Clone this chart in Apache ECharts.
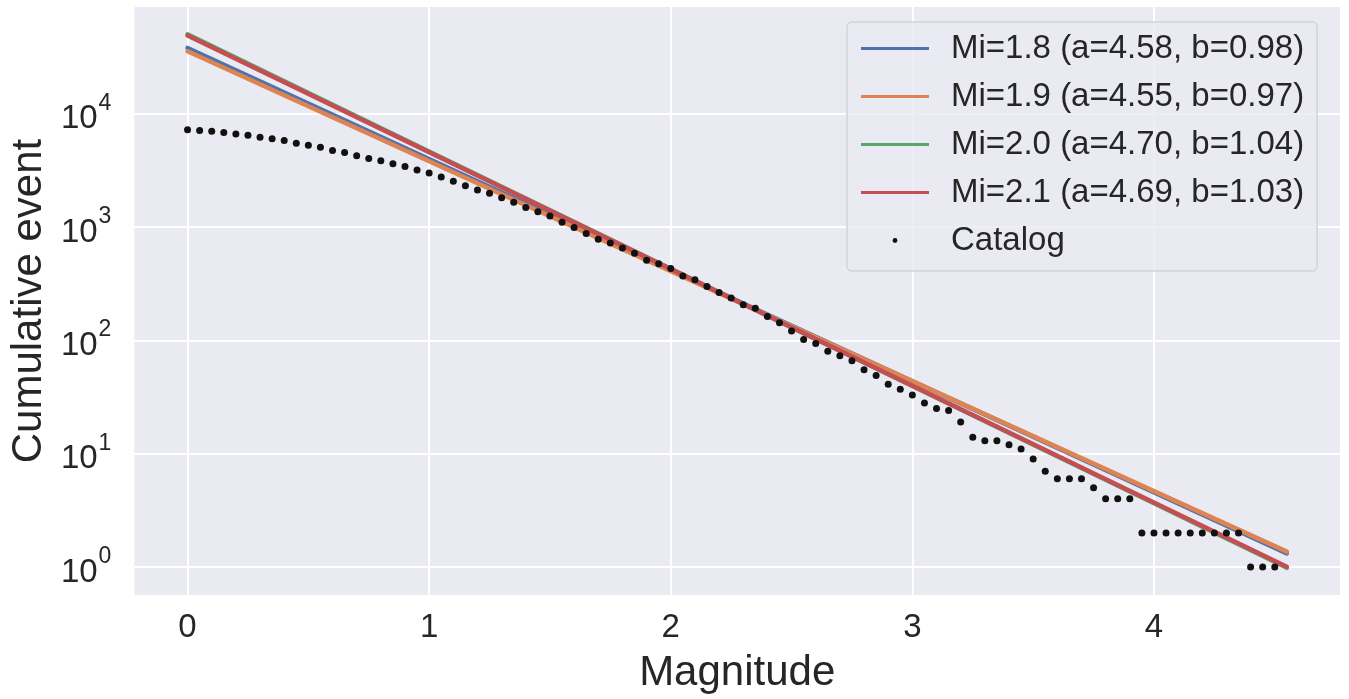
<!DOCTYPE html>
<html>
<head>
<meta charset="utf-8">
<script src="https://cdn.jsdelivr.net/npm/echarts@6/dist/echarts.min.js"></script>
<style>
html,body{margin:0;padding:0;background:#fff;}
#chart{width:1349px;height:699px;}
</style>
</head>
<body>
<div id="chart"></div>
<script>
// ---- data ----
const catalogMag = [
  0.00,0.05,0.10,0.15,0.20,0.25,0.30,0.35,0.40,0.45,
  0.50,0.55,0.60,0.65,0.70,0.75,0.80,0.85,0.90,0.95,
  1.00,1.05,1.10,1.15,1.20,1.25,1.30,1.35,1.40,1.45,
  1.50,1.55,1.60,1.65,1.70,1.75,1.80,1.85,1.90,1.95,
  2.00,2.05,2.10,2.15,2.20,2.25,2.30,2.35,2.40,2.45,
  2.50,2.55,2.60,2.65,2.70,2.75,2.80,2.85,2.90,2.95,
  3.00,3.05,3.10,3.15,3.20,3.25,3.30,3.35,3.40,3.45,
  3.50,3.55,3.60,3.65,3.70,3.75,3.80,3.85,3.90,3.95,
  4.00,4.05,4.10,4.15,4.20,4.25,4.30,4.35,4.40,4.45,
  4.50
];
const catalogCount = [
  7230,7090,6990,6810,6630,6450,6200,6000,5790,5480,
  5260,5060,4730,4540,4250,4020,3840,3610,3420,3180,
  2990,2760,2540,2310,2120,1990,1815,1650,1483,1367,
  1250,1101,989,876,780,724,654,588,510,473,
  431,369,343,299,265,236,206,192,162,143,
  121,102,94,80,73,66,55,49,41,37,
  33,28,25,24,19,14,13,13,12,11,
  9,7,6,6,6,5,4,4,4,2,
  2,2,2,2,2,2,2,2,1,1,
  1
];
const fitMag = [0, 4.55];
const fitNames = [
  'Mi=1.8 (a=4.58, b=0.98)',
  'Mi=1.9 (a=4.55, b=0.97)',
  'Mi=2.0 (a=4.70, b=1.04)',
  'Mi=2.1 (a=4.69, b=1.03)'
];
const fitBlue   = [38019, 1.321];
const fitOrange = [35481, 1.369];
const fitGreen  = [50119, 0.985];
const fitRed    = [48978, 1.008];
const xTicks = [0, 1, 2, 3, 4];
const catalogName = 'Catalog';

// ---- chart ----
const FONT = '"Liberation Sans", Arial, Helvetica, sans-serif';
const TXT = '#262626';
const colors = ['#4C72B0', '#DD8452', '#55A868', '#C44E52'];
const fits = [fitBlue, fitOrange, fitGreen, fitRed];

const chart = echarts.init(document.getElementById('chart'), null, {renderer: 'canvas'});

const lineSeries = fits.map((vals, i) => ({
  name: fitNames[i],
  type: 'line',
  symbol: 'none',
  showSymbol: false,
  data: fitMag.map((m, j) => [m, vals[j]]),
  lineStyle: {color: colors[i], width: 4.5, cap: 'round'},
  itemStyle: {color: colors[i]},
  z: 2 + i,
  animation: false
}));

const lineIcon = 'path://M0,0M70,14M1,5.4L69,5.4L69,8.6L1,8.6Z';
const dotIcon = 'path://M0,0M70,14M32.6,7a2.4,2.4 0 1,0 4.8,0a2.4,2.4 0 1,0 -4.8,0Z';

const option = {
  backgroundColor: '#ffffff',
  animation: false,
  grid: {left: 133, top: 7, right: 9, bottom: 102, backgroundColor: '#EAEAF2', show: true, borderWidth: 0},
  xAxis: {
    type: 'value',
    min: -0.22, max: 4.77,
    splitNumber: 5,
    name: 'Magnitude',
    nameLocation: 'middle',
    nameGap: 57,
    nameTextStyle: {fontSize: 42, color: TXT, fontFamily: FONT},
    axisLine: {show: false},
    axisTick: {show: false},
    axisLabel: {
      fontSize: 33, color: TXT, fontFamily: FONT, margin: 16,
      showMinLabel: false, showMaxLabel: false,
      formatter: v => (xTicks.indexOf(Math.round(v*1000)/1000) >= 0 ? String(Math.round(v)) : '')
    },
    splitLine: {show: true, showMinLine: false, showMaxLine: false, lineStyle: {color: '#ffffff', width: 2}}
  },
  yAxis: {
    type: 'log',
    logBase: 10,
    min: 0.567, max: 87300,
    name: 'Cumulative event',
    nameLocation: 'middle',
    nameGap: 82,
    nameTextStyle: {fontSize: 42, color: TXT, fontFamily: FONT},
    axisLine: {show: false},
    axisTick: {show: false},
    axisLabel: {
      margin: 23,
      color: TXT, fontFamily: FONT,
      formatter: function (v) {
        const l = Math.log10(v);
        const e = Math.round(l);
        if (Math.abs(l - e) > 1e-6) return '';
        return '{b|10}{s|' + e + '}';
      },
      rich: {
        b: {fontSize: 33, color: TXT, fontFamily: FONT, padding: [11, 0, 0, 0]},
        s: {fontSize: 23, color: TXT, fontFamily: FONT, verticalAlign: 'top', padding: [0, 0, 0, 1]}
      }
    },
    splitLine: {show: true, showMinLine: false, showMaxLine: false, lineStyle: {color: '#ffffff', width: 2}}
  },
  legend: {
    orient: 'vertical',
    left: 847, top: 22,
    padding: [10, 13, 14, 13],
    itemWidth: 70, itemHeight: 14,
    itemGap: 15,
    backgroundColor: 'rgba(234,234,242,0.8)',
    borderColor: '#D3D3DA', borderWidth: 1.5, borderRadius: 5,
    textStyle: {fontSize: 33, color: TXT, fontFamily: FONT, padding: [0, 0, 0, 16], lineHeight: 33},
    data: fitNames.map((n, i) => ({name: n, icon: lineIcon, itemStyle: {color: colors[i]}}))
      .concat([{name: catalogName, icon: dotIcon, itemStyle: {color: '#111111'}}])
  },
  series: lineSeries.concat([{
    name: catalogName,
    type: 'scatter',
    symbol: 'circle',
    symbolSize: 7,
    data: catalogMag.map((m, i) => [m, catalogCount[i]]),
    itemStyle: {color: '#111111', opacity: 1},
    z: 10,
    animation: false
  }])
};
chart.setOption(option);
</script>
</body>
</html>
